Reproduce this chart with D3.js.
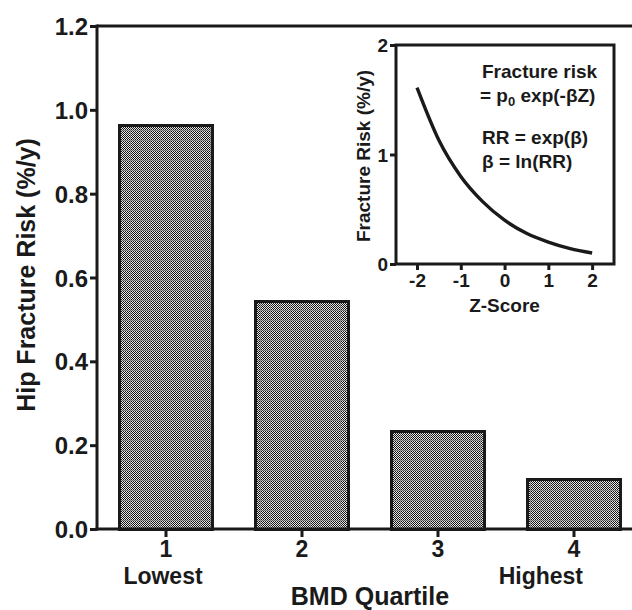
<!DOCTYPE html>
<html><head><meta charset="utf-8">
<script src="https://cdn.jsdelivr.net/npm/d3@7/dist/d3.min.js"></script>
<style>body{margin:0;background:#fff}svg{display:block}text{font-family:"Liberation Sans",Arial,sans-serif;font-weight:bold;fill:#1a1a1a}</style>
</head><body><svg id="c" width="632" height="610"></svg>
<script>
const categories = ["1","2","3","4"];
const subLabels = ["Lowest","","","Highest"];
const risk = [0.962, 0.542, 0.232, 0.117];
const yTicks = [0.0,0.2,0.4,0.6,0.8,1.0,1.2];
const zScores = [-2,-1.5,-1,-0.5,0,0.5,1,1.5,2];
const insetRisk = [1.61,1.13,0.80,0.57,0.40,0.28,0.20,0.14,0.10];
const insetXTicks = [-2,-1,0,1,2];
const insetYTicks = [0,1,2];

const svg = d3.select("#c");
const ink = "#1a1a1a";
const hy = d => String(d).replace("\u2212","-");
const defs = svg.append("defs");
const pat = defs.append("pattern").attr("id","chk").attr("patternUnits","userSpaceOnUse").attr("width",10).attr("height",10);
pat.append("rect").attr("width",10).attr("height",10).attr("fill","#e8e8e8");
for(let i=0;i<10;i++)for(let j=0;j<10;j++){ if((i+j)%2===0) pat.append("rect").attr("x",i).attr("y",j).attr("width",1).attr("height",1).attr("fill","#151515"); }
pat.append("rect").attr("x",0).attr("y",0).attr("width",10).attr("height",1).attr("fill","#8a8a8a").attr("opacity",0.6);
pat.append("rect").attr("x",0).attr("y",0).attr("width",1).attr("height",10).attr("fill","#8a8a8a").attr("opacity",0.6);

const x = d3.scaleBand().domain(categories).range([98,642]).paddingInner(0.32).paddingOuter(0.16);
const y = d3.scaleLinear().domain([0,1.2]).range([529,26]);
const cx = c => x(c)+x.bandwidth()/2;

// bars
svg.selectAll("rect.bar").data(risk).enter().append("rect").attr("class","bar")
  .attr("x",(d,i)=>x(categories[i])).attr("width",x.bandwidth())
  .attr("y",d=>y(d)).attr("height",d=>y(0)-y(d))
  .attr("fill","url(#chk)").attr("stroke",ink).attr("stroke-width",3).attr("shape-rendering","crispEdges");

// top frame line
svg.append("line").attr("x1",97).attr("x2",632).attr("y1",y(1.2)).attr("y2",y(1.2)).attr("stroke",ink).attr("stroke-width",3);

// y axis
const ya = svg.append("g").attr("transform","translate(97,0)").call(d3.axisLeft(y).tickValues(yTicks).tickFormat(d3.format(".1f")).tickSize(7).tickPadding(2));
ya.select(".domain").attr("stroke",ink).attr("stroke-width",3).attr("d",`M0,${y(1.2)-1.5}V${y(0)+1.5}`);
ya.selectAll(".tick line").attr("stroke",ink).attr("stroke-width",3);
ya.selectAll("text").style("font-size","24px").attr("fill",ink).attr("dy","0.36em");

// x axis
const xa = svg.append("g").attr("transform",`translate(0,${y(0)})`).call(d3.axisBottom(x).tickSize(8).tickPadding(4));
xa.select(".domain").attr("stroke",ink).attr("stroke-width",3).attr("d","M95.5,0H632");
xa.selectAll(".tick line").attr("stroke",ink).attr("stroke-width",3);
xa.selectAll("text").style("font-size","23px").attr("fill",ink);
svg.append("text").attr("x",cx("1")-3).attr("y",584).attr("text-anchor","middle").style("font-size","23px").text(subLabels[0]);
svg.append("text").attr("x",cx("4")+9).attr("y",584).attr("text-anchor","end").style("font-size","23px").text(subLabels[3]);
svg.append("text").attr("x",370).attr("y",605).attr("text-anchor","middle").style("font-size","25px").text("BMD Quartile");
svg.append("text").attr("transform","translate(35,275) rotate(-90)").attr("text-anchor","middle").style("font-size","25px").text("Hip Fracture Risk (%/y)");

// inset
const ix = d3.scaleLinear().domain([-2.48,2.5]).range([396,614]);
const iy = d3.scaleLinear().domain([0,2]).range([264,45]);
const ig = svg.append("g");
ig.append("rect").attr("x",396).attr("y",45).attr("width",218).attr("height",219).attr("fill","#fff").attr("stroke",ink).attr("stroke-width",3);
const line = d3.line().x((d,i)=>ix(zScores[i])).y(d=>iy(d)).curve(d3.curveMonotoneX);
ig.append("path").datum(insetRisk).attr("d",line).attr("fill","none").attr("stroke",ink).attr("stroke-width",3.4);
const iya = ig.append("g").attr("transform","translate(396,0)").call(d3.axisLeft(iy).tickValues(insetYTicks).tickFormat(d3.format("d")).tickSize(6).tickPadding(2));
iya.select(".domain").remove();
iya.selectAll(".tick line").attr("stroke",ink).attr("stroke-width",3);
iya.selectAll("text").style("font-size","19px").attr("fill",ink).attr("dy","0.36em");
const ixa = ig.append("g").attr("transform","translate(0,264)").call(d3.axisBottom(ix).tickValues(insetXTicks).tickFormat(d=>hy(d3.format("d")(d))).tickSize(6).tickPadding(4));
ixa.select(".domain").remove();
ixa.selectAll(".tick line").attr("stroke",ink).attr("stroke-width",3);
ixa.selectAll("text").style("font-size","19px").attr("fill",ink);
ig.append("text").attr("x",ix(0)).attr("y",312).attr("text-anchor","middle").style("font-size","19px").text("Z-Score");
ig.append("text").attr("transform","translate(370,156) rotate(-90)").attr("text-anchor","middle").style("font-size","19px").text("Fracture Risk (%/y)");
const notes = ig.append("g").style("font-size","19px");
notes.append("text").attr("x",482).attr("y",78).text("Fracture risk");
const t2 = notes.append("text").attr("x",480).attr("y",102);
t2.append("tspan").text("= p");
t2.append("tspan").attr("dy",4).style("font-size","13px").text("0");
t2.append("tspan").attr("dy",-4).text(" exp(-βZ)");
notes.append("text").attr("x",482).attr("y",144).text("RR = exp(β)");
notes.append("text").attr("x",482).attr("y",168).text("β = ln(RR)");
</script></body></html>
